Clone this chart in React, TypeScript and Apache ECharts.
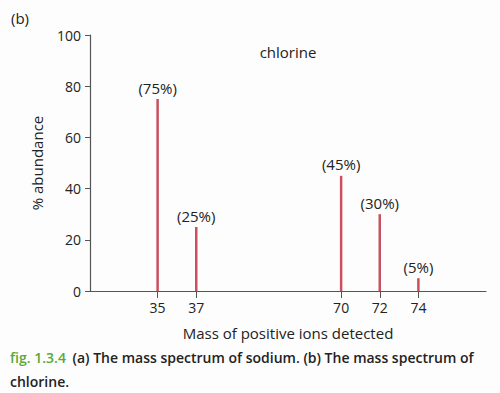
import React, { useEffect, useRef } from "react";
import * as echarts from "echarts";

const masses = [35, 37, 70, 72, 74];
const abundances = [75, 25, 45, 30, 5];
const yTicks = [0, 20, 40, 60, 80, 100];

const FONT = "'Open Sans', 'Noto Sans', sans-serif";
const TEXT = "#222";
const AXIS = "#555";

export default function App() {
  const ref = useRef<HTMLDivElement>(null);
  useEffect(() => {
    if (!ref.current) return;
    const chart = echarts.init(ref.current, null, { renderer: "svg" });
    chart.setOption({
      animation: false,
      backgroundColor: "#fdfdfd",
      grid: { left: 90, right: 14, top: 35, bottom: 102 },
      xAxis: [
        {
          type: "value",
          min: 31.5,
          max: 77.5,
          breaks: [{ start: 38, end: 69, gap: 5.5 }],
          breakArea: { show: false },
          name: "Mass of positive ions detected",
          nameLocation: "middle",
          nameGap: 34,
          nameTextStyle: { fontFamily: FONT, fontSize: 15, color: TEXT },
          axisLine: { show: false },
          axisTick: { show: true, length: 7, customValues: masses, lineStyle: { color: AXIS } },
          axisLabel: {
            customValues: masses,
            fontFamily: FONT,
            fontSize: 14,
            color: TEXT,
            margin: 9,
          },
          splitLine: { show: false },
        },
        {
          type: "value",
          position: "bottom",
          min: 0,
          max: 1,
          axisLine: { show: true, onZero: false, lineStyle: { color: AXIS, width: 1.2 } },
          axisTick: { show: false },
          axisLabel: { show: false },
          splitLine: { show: false },
        },
      ],
      yAxis: {
        type: "value",
        min: 0,
        max: 100,
        interval: 20,
        name: "% abundance",
        nameLocation: "middle",
        nameGap: 46,
        nameRotate: 90,
        nameTextStyle: { fontFamily: FONT, fontSize: 15, color: TEXT },
        axisLine: { show: true, lineStyle: { color: AXIS, width: 1.2 } },
        axisTick: { show: true, length: 5, lineStyle: { color: AXIS } },
        axisLabel: {
          fontFamily: FONT,
          fontSize: 14,
          color: TEXT,
          margin: 9,
          formatter: (v: number) => (yTicks.includes(v) ? String(v) : ""),
        },
        splitLine: { show: false },
      },
      series: [
        {
          type: "bar",
          xAxisIndex: 0,
          barWidth: 2.5,
          data: masses.map((m, i) => [m, abundances[i]]),
          itemStyle: { color: "#c9505e" },
          label: {
            show: true,
            position: "top",
            distance: 4,
            fontFamily: FONT,
            fontSize: 15,
            color: TEXT,
            formatter: (p: any) => `(${p.value[1]}%)`,
          },
        },
      ],
      graphic: [
        {
          type: "text",
          x: 11,
          y: 18,
          style: {
            text: "(b)",
            fontFamily: FONT,
            fontSize: 15,
            fill: TEXT,
            verticalAlign: "middle",
          },
        },
        {
          type: "text",
          x: 288,
          y: 52,
          style: {
            text: "chlorine",
            fontFamily: FONT,
            fontSize: 15,
            fill: TEXT,
            align: "center",
            verticalAlign: "middle",
          },
        },
        {
          type: "text",
          x: 10,
          y: 357,
          style: {
            text: "{g|fig. 1.3.4}  {b|(a) The mass spectrum of sodium. (b) The mass spectrum of}",
            verticalAlign: "middle",
            rich: {
              g: { fontFamily: FONT, fontSize: 14, fontWeight: 600, fill: "#5aa83a", color: "#5aa83a" },
              b: { fontFamily: FONT, fontSize: 14, fontWeight: 600, fill: TEXT, color: TEXT },
            },
          },
        },
        {
          type: "text",
          x: 10,
          y: 381,
          style: {
            text: "chlorine.",
            fontFamily: FONT,
            fontSize: 14,
            fontWeight: 600,
            fill: TEXT,
            verticalAlign: "middle",
          },
        },
      ],
    });
    return () => chart.dispose();
  }, []);
  return (
    <div
      ref={ref}
      style={{ position: "fixed", left: 0, top: 0, width: 500, height: 393 }}
    />
  );
}
